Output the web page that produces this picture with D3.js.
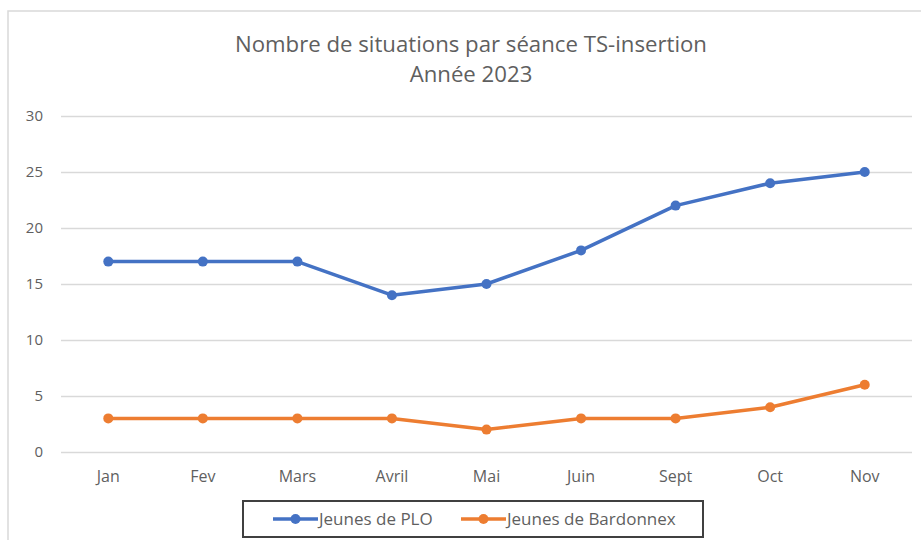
<!DOCTYPE html>
<html>
<head>
<meta charset="utf-8">
<script src="https://cdn.jsdelivr.net/npm/d3@7"></script>
<style>
  body { margin: 0; background: #fff; }
  svg { display: block; font-family: "Open Sans", sans-serif; }
</style>
</head>
<body>
<div id="chart"></div>
<script>
var months = ["Jan", "Fev", "Mars", "Avril", "Mai", "Juin", "Sept", "Oct", "Nov"];
var plo = [17, 17, 17, 14, 15, 18, 22, 24, 25];
var bardonnex = [3, 3, 3, 3, 2, 3, 3, 4, 6];
var yTicks = [0, 5, 10, 15, 20, 25, 30];
var seriesNames = ["Jeunes de PLO", "Jeunes de Bardonnex"];
var seriesColors = ["#4472C4", "#ED7D31"];

var width = 921, height = 540;
var margin = {top: 116, bottom: 88, left: 61, right: 9};
var textColor = "#5f5f5f";

var svg = d3.select("#chart").append("svg")
    .attr("width", width)
    .attr("height", height);

// chart area border
svg.append("rect")
    .attr("x", 8).attr("y", 11)
    .attr("width", width + 10).attr("height", height)
    .attr("fill", "none")
    .attr("stroke", "#d9d9d9")
    .attr("stroke-width", 1.5);

var x = d3.scaleBand()
    .domain(months)
    .range([margin.left, width - margin.right]);

var y = d3.scaleLinear()
    .domain([0, 30])
    .range([height - margin.bottom, margin.top]);

// title
svg.append("text")
    .attr("x", 471).attr("y", 52)
    .attr("text-anchor", "middle")
    .style("font-size", "22.2px")
    .attr("fill", textColor)
    .text("Nombre de situations par séance TS-insertion");
svg.append("text")
    .attr("x", 471).attr("y", 82)
    .attr("text-anchor", "middle")
    .style("font-size", "22.2px")
    .attr("fill", textColor)
    .text("Année 2023");

// gridlines + y labels
var yAxis = d3.axisLeft(y)
    .tickValues(yTicks)
    .tickSize(-(width - margin.left - margin.right))
    .tickPadding(18);
var gy = svg.append("g")
    .attr("transform", "translate(" + margin.left + ",0)")
    .call(yAxis);
gy.select(".domain").remove();
gy.selectAll("line").attr("stroke", "#d9d9d9").attr("stroke-width", 1.5);
gy.selectAll("text")
    .attr("fill", textColor)
    .style("font-size", "15px")
    .style("font-family", "'Open Sans', sans-serif");

// x labels
var xAxis = d3.axisBottom(x).tickSize(0).tickPadding(19);
var gx = svg.append("g")
    .attr("transform", "translate(0," + y(0) + ")")
    .call(xAxis);
gx.select(".domain").remove();
gx.selectAll("text")
    .attr("fill", textColor)
    .style("font-size", "16px")
    .style("font-family", "'Open Sans', sans-serif");

var line = d3.line()
    .x(function(d, i) { return x(months[i]) + x.bandwidth() / 2; })
    .y(function(d) { return y(d); });

[plo, bardonnex].forEach(function(series, k) {
    svg.append("path")
        .datum(series)
        .attr("d", line)
        .attr("fill", "none")
        .attr("stroke", seriesColors[k])
        .attr("stroke-width", 3.5)
        .attr("stroke-linejoin", "round");
    svg.selectAll(".dot" + k)
        .data(series)
        .enter()
        .append("circle")
        .attr("cx", function(d, i) { return x(months[i]) + x.bandwidth() / 2; })
        .attr("cy", function(d) { return y(d); })
        .attr("r", 5)
        .attr("fill", seriesColors[k]);
});

// legend
svg.append("rect")
    .attr("x", 243).attr("y", 501)
    .attr("width", 460).attr("height", 36)
    .attr("fill", "#fff")
    .attr("stroke", "#404040")
    .attr("stroke-width", 2);

var legendX = [273, 461];
seriesNames.forEach(function(name, k) {
    var g = svg.append("g").attr("transform", "translate(" + legendX[k] + ",519)");
    g.append("line")
        .attr("x1", 0).attr("x2", 45)
        .attr("stroke", seriesColors[k])
        .attr("stroke-width", 3.5);
    g.append("circle").attr("cx", 22.5).attr("r", 5).attr("fill", seriesColors[k]);
    g.append("text")
        .attr("x", 46).attr("y", 6)
        .attr("fill", textColor)
        .style("font-size", "17px")
        .text(name);
});
</script>
</body>
</html>
